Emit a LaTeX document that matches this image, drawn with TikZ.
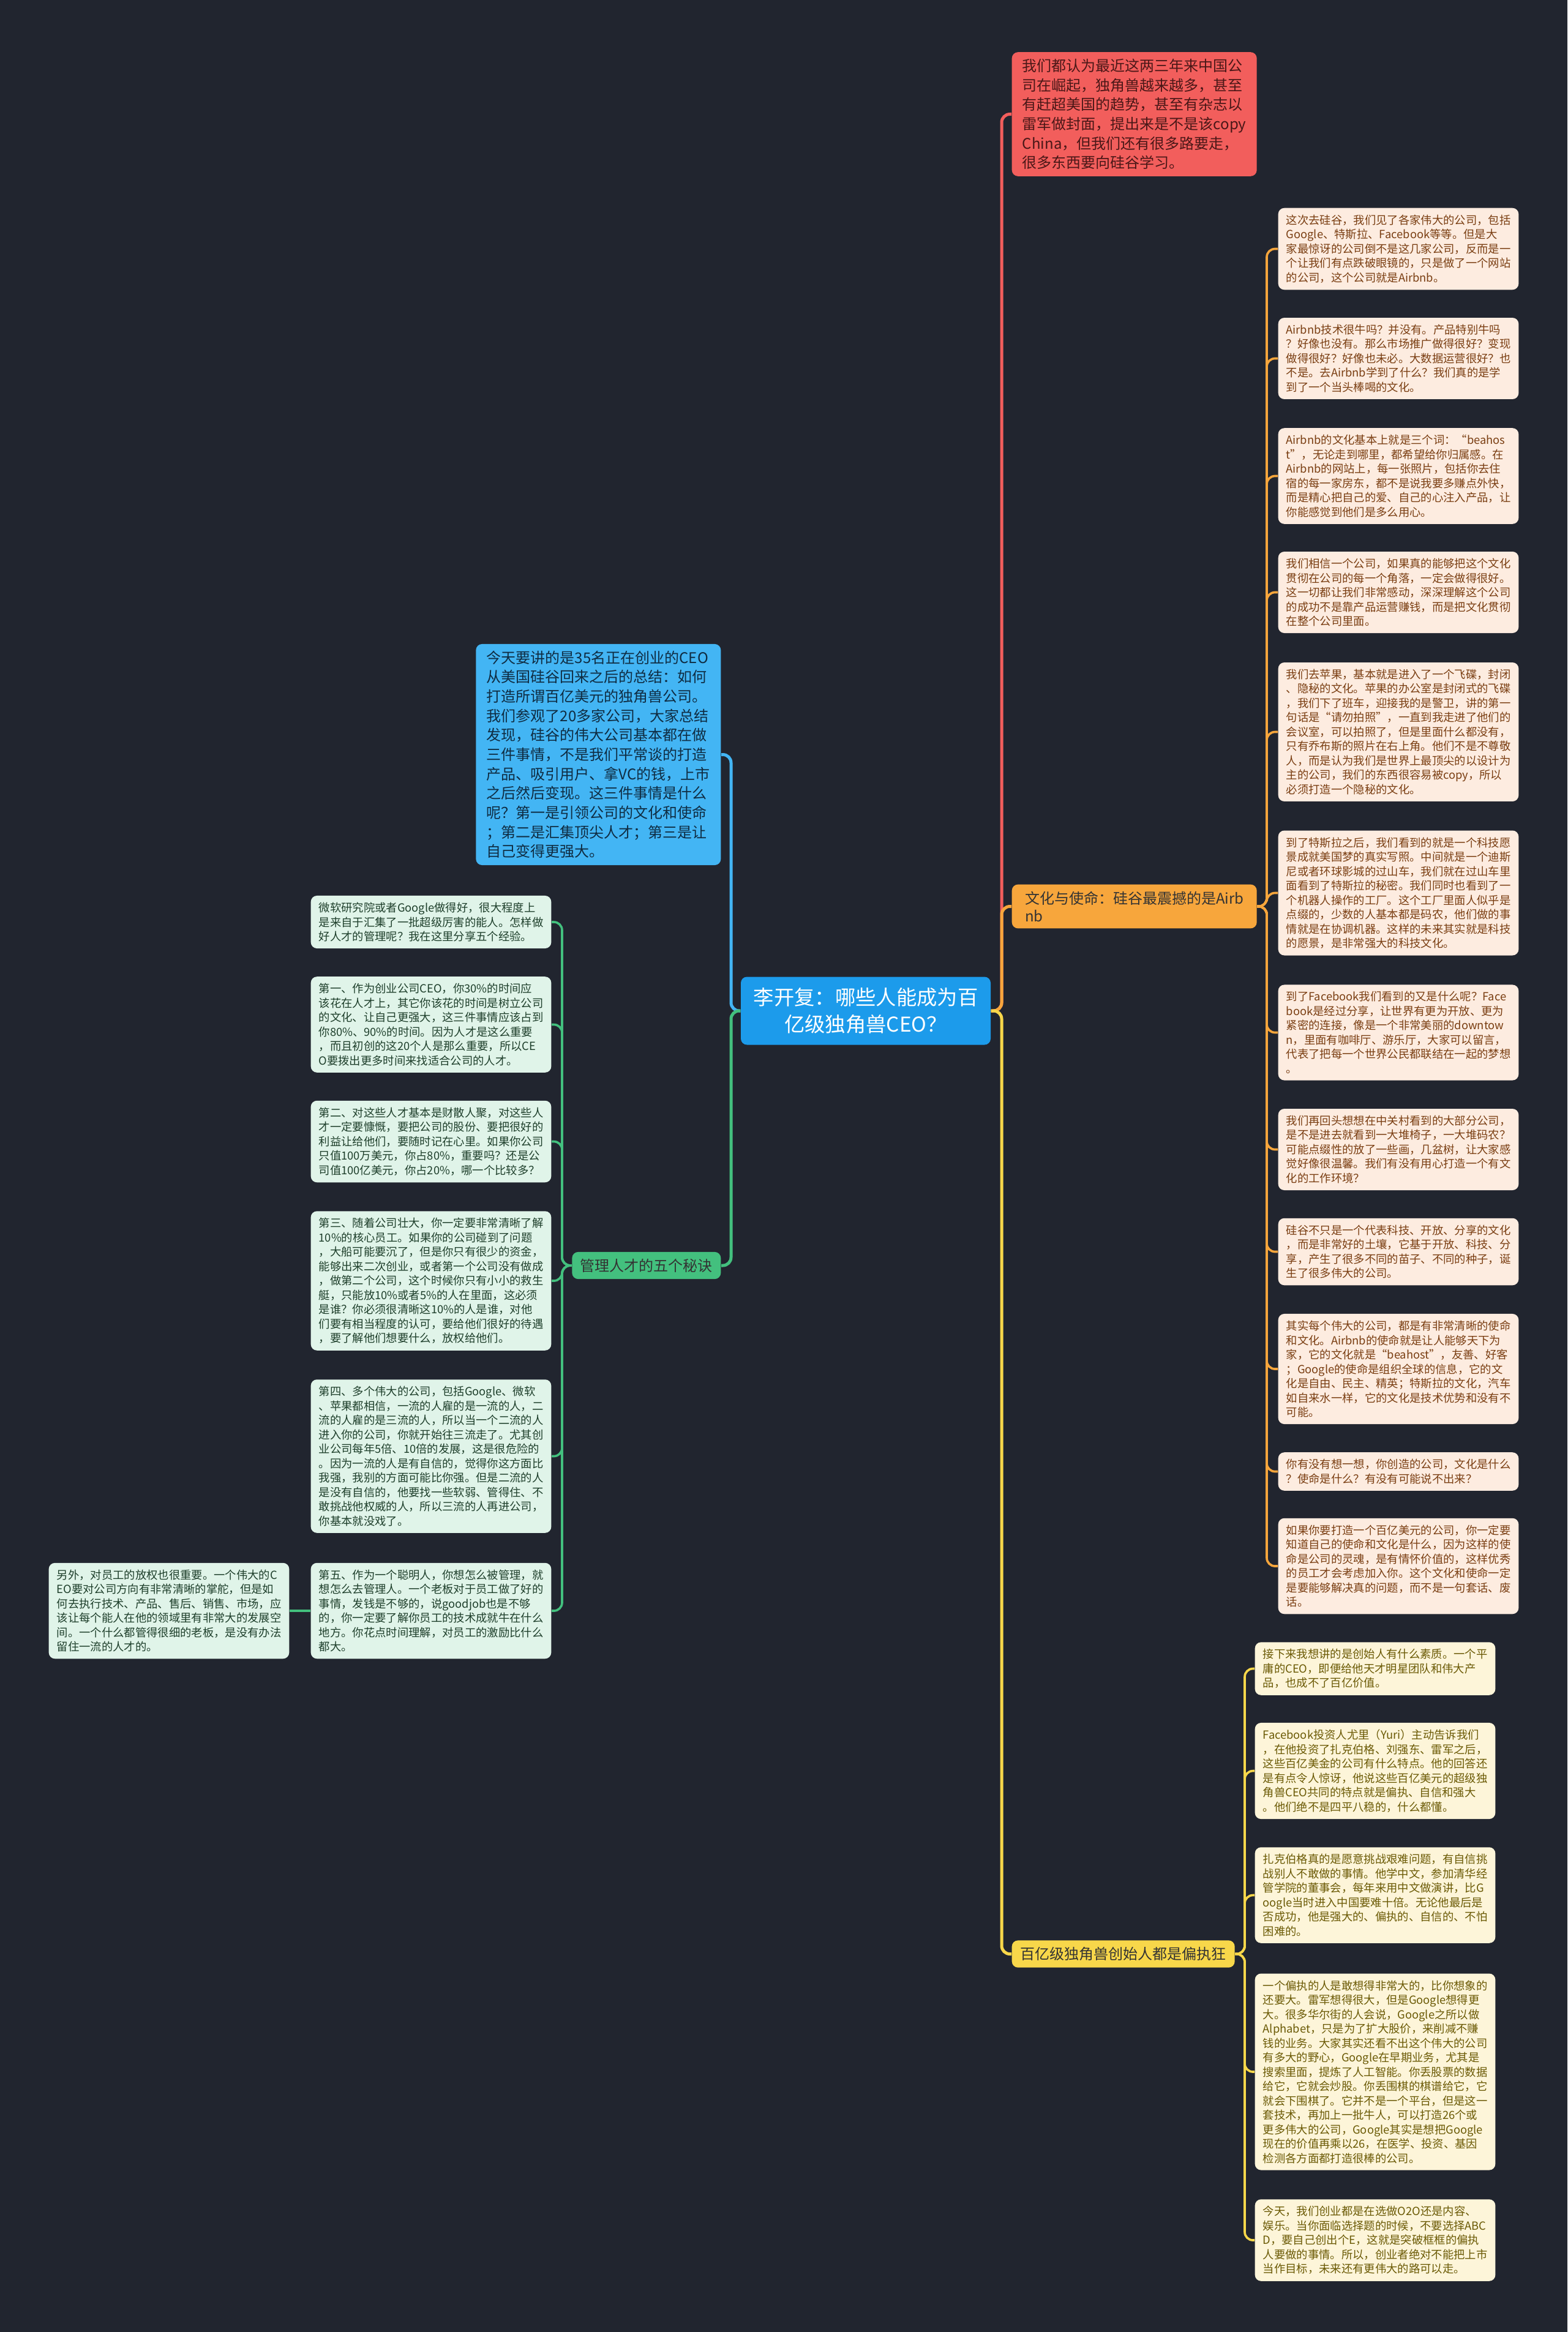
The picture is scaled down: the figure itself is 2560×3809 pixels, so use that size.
\documentclass[tikz,border=0pt]{standalone}
\usepackage{fontspec}
\setmainfont{Noto Sans CJK SC}
\definecolor{bg}{HTML}{21252F}
\definecolor{ctrfill}{HTML}{1C9BEB}
\definecolor{redfill}{HTML}{F25E5C}
\definecolor{redtext}{HTML}{4A1717}
\definecolor{bluefill}{HTML}{43B5F4}
\definecolor{bluetext}{HTML}{0F2C42}
\definecolor{orgfill}{HTML}{F7A63C}
\definecolor{orgleaf}{HTML}{FDECE0}
\definecolor{orgtext}{HTML}{7A3E12}
\definecolor{grnfill}{HTML}{43C07E}
\definecolor{grnleaf}{HTML}{E0F4E9}
\definecolor{grntext}{HTML}{1E3F2B}
\definecolor{ylwfill}{HTML}{F8D74A}
\definecolor{ylwleaf}{HTML}{FDF5D9}
\definecolor{ylwtext}{HTML}{6B5A05}
\begin{document}
\begin{tikzpicture}[x=0.3pt,y=-0.3pt,
  every node/.style={inner xsep=3pt,inner ysep=3.3pt,rounded corners=3pt,align=left},
  topic/.style={font=\fontsize{7.2}{9.5}\selectfont,minimum width=120pt},
  branch/.style={font=\fontsize{7.2}{8.7}\selectfont},
  leaf/.style={font=\fontsize{5.5}{7.05}\selectfont,minimum width=117.8pt},
  cleaf/.style={leaf,fill=orgleaf,text=orgtext,anchor=west},
  gleaf/.style={leaf,fill=grnleaf,text=grntext,anchor=east},
  yleaf/.style={leaf,fill=ylwleaf,text=ylwtext,anchor=west},
  link/.style={line width=1.5pt,rounded corners=4pt},
  twig/.style={line width=1.1pt,rounded corners=4pt}]
\fill[bg] (0,0) rectangle (2560,3809);
\node[fill=ctrfill,text=white,align=center,font=\fontsize{10}{13.2}\selectfont,minimum width=122.4pt,minimum height=33.3pt] (ctr) at (1414,1651) {李开复：哪些人能成为百\\亿级独角兽CEO？};
\node[topic,fill=redfill,text=redtext,anchor=west] (trend) at (1652,186.5) {我们都认为最近这两三年来中国公\\司在崛起，独角兽越来越多，甚至\\有赶超美国的趋势，甚至有杂志以\\雷军做封面，提出来是不是该copy\\China，但我们还有很多路要走，\\很多东西要向硅谷学习。};
\node[topic,fill=bluefill,text=bluetext,anchor=east] (intro) at (1178,1232.5) {今天要讲的是35名正在创业的CEO\\从美国硅谷回来之后的总结：如何\\打造所谓百亿美元的独角兽公司。\\我们参观了20多家公司，大家总结\\发现，硅谷的伟大公司基本都在做\\三件事情，不是我们平常谈的打造\\产品、吸引用户、拿VC的钱，上市\\之后然后变现。这三件事情是什么\\呢？第一是引领公司的文化和使命\\；第二是汇集顶尖人才；第三是让\\自己变得更强大。};
\node[branch,fill=orgfill,text=black!80,anchor=west,minimum width=120pt] (cult) at (1652,1480.5) {文化与使命：硅谷最震撼的是Airb\\nb};
\node[branch,fill=grnfill,text=black!80,anchor=east,minimum width=72.9pt] (talent) at (1178,2067) {管理人才的五个秘诀};
\node[branch,fill=ylwfill,text=black!80,anchor=west,minimum width=109.2pt] (para) at (1652,3191.5) {百亿级独角兽创始人都是偏执狂};

\node[cleaf] (c1) at (2087,406.5) {这次去硅谷，我们见了各家伟大的公司，包括\\Google、特斯拉、Facebook等等。但是大\\家最惊讶的公司倒不是这几家公司，反而是一\\个让我们有点跌破眼镜的，只是做了一个网站\\的公司，这个公司就是Airbnb。};
\node[cleaf] (c2) at (2087,585.5) {Airbnb技术很牛吗？并没有。产品特别牛吗\\？好像也没有。那么市场推广做得很好？变现\\做得很好？好像也未必。大数据运营很好？也\\不是。去Airbnb学到了什么？我们真的是学\\到了一个当头棒喝的文化。};
\node[cleaf] (c3) at (2087,777.5) {Airbnb的文化基本上就是三个词：“beahos\\t”，无论走到哪里，都希望给你归属感。在\\Airbnb的网站上，每一张照片，包括你去住\\宿的每一家房东，都不是说我要多赚点外快，\\而是精心把自己的爱、自己的心注入产品，让\\你能感觉到他们是多么用心。};
\node[cleaf] (c4) at (2087,967.5) {我们相信一个公司，如果真的能够把这个文化\\贯彻在公司的每一个角落，一定会做得很好。\\这一切都让我们非常感动，深深理解这个公司\\的成功不是靠产品运营赚钱，而是把文化贯彻\\在整个公司里面。};
\node[cleaf] (c5) at (2087,1195.5) {我们去苹果，基本就是进入了一个飞碟，封闭\\、隐秘的文化。苹果的办公室是封闭式的飞碟\\，我们下了班车，迎接我的是警卫，讲的第一\\句话是“请勿拍照”，一直到我走进了他们的\\会议室，可以拍照了，但是里面什么都没有，\\只有乔布斯的照片在右上角。他们不是不尊敬\\人，而是认为我们是世界上最顶尖的以设计为\\主的公司，我们的东西很容易被copy，所以\\必须打造一个隐秘的文化。};
\node[cleaf] (c6) at (2087,1458.5) {到了特斯拉之后，我们看到的就是一个科技愿\\景成就美国梦的真实写照。中间就是一个迪斯\\尼或者环球影城的过山车，我们就在过山车里\\面看到了特斯拉的秘密。我们同时也看到了一\\个机器人操作的工厂。这个工厂里面人似乎是\\点缀的，少数的人基本都是码农，他们做的事\\情就是在协调机器。这样的未来其实就是科技\\的愿景，是非常强大的科技文化。};
\node[cleaf] (c7) at (2087,1686.5) {到了Facebook我们看到的又是什么呢？Face\\book是经过分享，让世界有更为开放、更为\\紧密的连接，像是一个非常美丽的downtow\\n，里面有咖啡厅、游乐厅，大家可以留言，\\代表了把每一个世界公民都联结在一起的梦想\\。};
\node[cleaf] (c8) at (2087,1877.5) {我们再回头想想在中关村看到的大部分公司，\\是不是进去就看到一大堆椅子，一大堆码农？\\可能点缀性的放了一些画，几盆树，让大家感\\觉好像很温馨。我们有没有用心打造一个有文\\化的工作环境？};
\node[cleaf] (c9) at (2087,2044.5) {硅谷不只是一个代表科技、开放、分享的文化\\，而是非常好的土壤，它基于开放、科技、分\\享，产生了很多不同的苗子、不同的种子，诞\\生了很多伟大的公司。};
\node[cleaf] (c10) at (2087,2236) {其实每个伟大的公司，都是有非常清晰的使命\\和文化。Airbnb的使命就是让人能够天下为\\家，它的文化就是“beahost”，友善、好客\\；Google的使命是组织全球的信息，它的文\\化是自由、民主、精英；特斯拉的文化，汽车\\如自来水一样，它的文化是技术优势和没有不\\可能。};
\node[cleaf] (c11) at (2087,2403.5) {你有没有想一想，你创造的公司，文化是什么\\？使命是什么？有没有可能说不出来？};
\node[cleaf] (c12) at (2087,2558) {如果你要打造一个百亿美元的公司，你一定要\\知道自己的使命和文化是什么，因为这样的使\\命是公司的灵魂，是有情怀价值的，这样优秀\\的员工才会考虑加入你。这个文化和使命一定\\是要能够解决真的问题，而不是一句套话、废\\话。};

\node[yleaf] (y1) at (2049,2725.5) {接下来我想讲的是创始人有什么素质。一个平\\庸的CEO，即便给他天才明星团队和伟大产\\品，也成不了百亿价值。};
\node[yleaf] (y2) at (2049,2892.5) {Facebook投资人尤里（Yuri）主动告诉我们\\，在他投资了扎克伯格、刘强东、雷军之后，\\这些百亿美金的公司有什么特点。他的回答还\\是有点令人惊讶，他说这些百亿美元的超级独\\角兽CEO共同的特点就是偏执、自信和强大\\。他们绝不是四平八稳的，什么都懂。};
\node[yleaf] (y3) at (2049,3095.5) {扎克伯格真的是愿意挑战艰难问题，有自信挑\\战别人不敢做的事情。他学中文，参加清华经\\管学院的董事会，每年来用中文做演讲，比G\\oogle当时进入中国要难十倍。无论他最后是\\否成功，他是强大的、偏执的、自信的、不怕\\困难的。};
\node[yleaf] (y4) at (2049,3384) {一个偏执的人是敢想得非常大的，比你想象的\\还要大。雷军想得很大，但是Google想得更\\大。很多华尔街的人会说，Google之所以做\\Alphabet，只是为了扩大股价，来削减不赚\\钱的业务。大家其实还看不出这个伟大的公司\\有多大的野心，Google在早期业务，尤其是\\搜索里面，提炼了人工智能。你丢股票的数据\\给它，它就会炒股。你丢围棋的棋谱给它，它\\就会下围棋了。它并不是一个平台，但是这一\\套技术，再加上一批牛人，可以打造26个或\\更多伟大的公司，Google其实是想把Google\\现在的价值再乘以26，在医学、投资、基因\\检测各方面都打造很棒的公司。};
\node[yleaf] (y5) at (2049,3659) {今天，我们创业都是在选做O2O还是内容、\\娱乐。当你面临选择题的时候，不要选择ABC\\D，要自己创出个E，这就是突破框框的偏执\\人要做的事情。所以，创业者绝对不能把上市\\当作目标，未来还有更伟大的路可以走。};

\node[gleaf] (g1) at (901,1506) {微软研究院或者Google做得好，很大程度上\\是来自于汇集了一批超级厉害的能人。怎样做\\好人才的管理呢？我在这里分享五个经验。};
\node[gleaf] (g2) at (901,1673.5) {第一、作为创业公司CEO，你30\%的时间应\\该花在人才上，其它你该花的时间是树立公司\\的文化、让自己更强大，这三件事情应该占到\\你80\%、90\%的时间。因为人才是这么重要\\，而且初创的这20个人是那么重要，所以CE\\O要拨出更多时间来找适合公司的人才。};
\node[gleaf] (g3) at (901,1864.5) {第二、对这些人才基本是财散人聚，对这些人\\才一定要慷慨，要把公司的股份、要把很好的\\利益让给他们，要随时记在心里。如果你公司\\只值100万美元，你占80\%，重要吗？还是公\\司值100亿美元，你占20\%，哪一个比较多？};
\node[gleaf] (g4) at (901,2092) {第三、随着公司壮大，你一定要非常清晰了解\\10\%的核心员工。如果你的公司碰到了问题\\，大船可能要沉了，但是你只有很少的资金，\\能够出来二次创业，或者第一个公司没有做成\\，做第二个公司，这个时候你只有小小的救生\\艇，只能放10\%或者5\%的人在里面，这必须\\是谁？你必须很清晰这10\%的人是谁，对他\\们要有相当程度的认可，要给他们很好的待遇\\，要了解他们想要什么，放权给他们。};
\node[gleaf] (g5) at (901,2378.5) {第四、多个伟大的公司，包括Google、微软\\、苹果都相信，一流的人雇的是一流的人，二\\流的人雇的是三流的人，所以当一个二流的人\\进入你的公司，你就开始往三流走了。尤其创\\业公司每年5倍、10倍的发展，这是很危险的\\。因为一流的人是有自信的，觉得你这方面比\\我强，我别的方面可能比你强。但是二流的人\\是没有自信的，他要找一些软弱、管得住、不\\敢挑战他权威的人，所以三流的人再进公司，\\你基本就没戏了。};
\node[gleaf] (g6) at (901,2631) {第五、作为一个聪明人，你想怎么被管理，就\\想怎么去管理人。一个老板对于员工做了好的\\事情，发钱是不够的，说goodjob也是不够\\的，你一定要了解你员工的技术成就牛在什么\\地方。你花点时间理解，对员工的激励比什么\\都大。};
\node[gleaf] (g7) at (473,2631) {另外，对员工的放权也很重要。一个伟大的C\\EO要对公司方向有非常清晰的掌舵，但是如\\何去执行技术、产品、售后、销售、市场，应\\该让每个能人在他的领域里有非常大的发展空\\间。一个什么都管得很细的老板，是没有办法\\留住一流的人才的。};

\coordinate (rt) at (1636,1651);
\coordinate (lt) at (1194,1651);
\coordinate (ct) at (2069,1480.5);
\coordinate (yt) at (2033,3191.5);
\coordinate (gt) at (918,2067);
\draw[link,redfill] (ctr.east) -- (rt) |- (trend.west);
\draw[link,orgfill] (ctr.east) -- (rt) |- (cult.west);
\draw[link,ylwfill] (ctr.east) -- (rt) |- (para.west);
\draw[link,bluefill] (ctr.west) -- (lt) |- (intro.east);
\draw[link,grnfill] (ctr.west) -- (lt) |- (talent.east);
\foreach \i in {1,...,12} \draw[twig,orgfill] (cult.east) -- (ct) |- (c\i.west);
\foreach \i in {1,...,5} \draw[twig,ylwfill] (para.east) -- (yt) |- (y\i.west);
\foreach \i in {1,...,6} \draw[twig,grnfill] (talent.west) -- (gt) |- (g\i.east);
\draw[twig,grnfill] (g6.west) -- (g7.east);
\end{tikzpicture}
\end{document}
